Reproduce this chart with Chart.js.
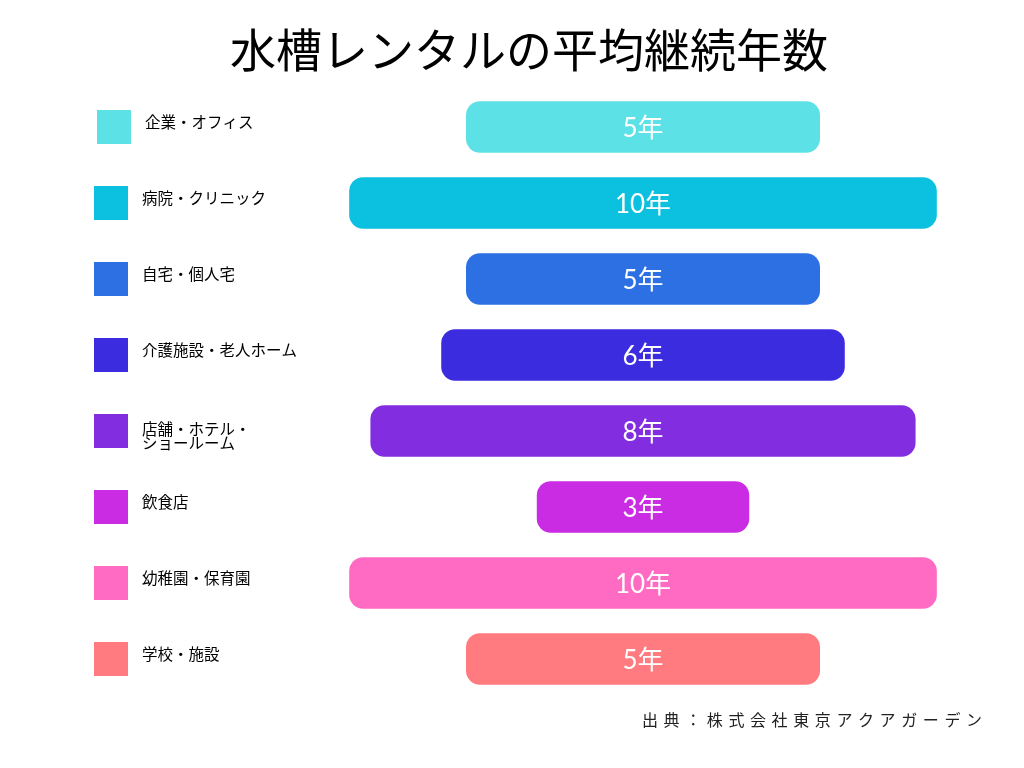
<!DOCTYPE html>
<html lang="ja">
<head>
<meta charset="utf-8">
<title>水槽レンタルの平均継続年数</title>
<script src="https://cdn.jsdelivr.net/npm/chart.js@4"></script>
<style>
  html, body { margin: 0; padding: 0; background: #fff; }
  #wrap { width: 1024px; height: 768px; }
</style>
</head>
<body>
<div id="wrap"><canvas id="rental_years_bar"></canvas></div>
<script>
var chartTitle = '水槽レンタルの平均継続年数';
var sourceText = '出典：株式会社東京アクアガーデン';

var categories = [
    '企業・オフィス',
    '病院・クリニック',
    '自宅・個人宅',
    '介護施設・老人ホーム',
    ['店舗・ホテル・', 'ショールーム'],
    '飲食店',
    '幼稚園・保育園',
    '学校・施設'
];
// average years (shown on the bars)
var years = [5, 10, 5, 6, 8, 3, 10, 5];
// bar length as drawn in the reference (the 10 year bars are visually shortened)
var barLengths = [5, 8.3, 5, 5.7, 7.7, 3, 8.3, 5];
var colors = ['#5CE1E6', '#0CC0DF', '#2C70E3', '#3C2CE0', '#822EE0', '#C92CE2', '#FF6AC3', '#FF7B80'];

var FONT = '"Noto Sans CJK JP", "Noto Sans", sans-serif';

// bars are centred on 0, so each one spans -len/2 .. len/2
var spans = barLengths.map(function (len) { return [-len / 2, len / 2]; });

var decorPlugin = {
    id: 'decor',
    afterDatasetsDraw: function (chart) {
        var ctx = chart.ctx;
        var meta = chart.getDatasetMeta(0);
        ctx.save();
        ctx.fillStyle = '#ffffff';
        ctx.font = '26px Lato, ' + FONT;
        ctx.textAlign = 'center';
        ctx.textBaseline = 'middle';
        meta.data.forEach(function (bar, i) {
            ctx.fillText(years[i] + '年', bar.base + (bar.x - bar.base) / 2, bar.y + 2);
        });
        ctx.restore();
    },
    afterDraw: function (chart) {
        var ctx = chart.ctx;
        var yScale = chart.scales.y;
        ctx.save();

        // title
        ctx.fillStyle = '#000000';
        ctx.font = '46px ' + FONT;
        ctx.textAlign = 'center';
        ctx.textBaseline = 'middle';
        ctx.fillText(chartTitle, 529, 50);

        // legend squares and names, one per row
        ctx.textAlign = 'left';
        ctx.font = '15.5px ' + FONT;
        categories.forEach(function (name, i) {
            var cy = yScale.getPixelForValue(i);
            ctx.fillStyle = colors[i];
            ctx.fillRect(i === 0 ? 97 : 94, cy - 17, 34, 34);
            ctx.fillStyle = '#000000';
            if (Array.isArray(name)) {
                name.forEach(function (line, k) {
                    ctx.fillText(line, 142, cy - 2 + k * 14);
                });
            } else {
                ctx.fillText(name, i === 0 ? 145 : 142, cy - 5);
            }
        });

        // source
        ctx.fillStyle = '#222222';
        ctx.font = '16px ' + FONT;
        ctx.letterSpacing = '5.6px';
        ctx.fillText(sourceText, 642, 720);
        ctx.restore();
    }
};

var ctx = document.getElementById('rental_years_bar').getContext('2d');
var myChart = new Chart(ctx, {
    type: 'bar',
    data: {
        labels: categories,
        datasets: [
            {
                label: '平均継続年数',
                data: spans,
                backgroundColor: colors,
                borderRadius: 14,
                borderSkipped: false,
                categoryPercentage: 0.68,
                barPercentage: 1
            }
        ]
    },
    options: {
        indexAxis: 'y',
        responsive: true,
        maintainAspectRatio: false,
        animation: false,
        layout: {
            padding: { left: 289, right: 27, top: 89, bottom: 71 }
        },
        scales: {
            x: { min: -5, max: 5, display: false },
            y: { display: false }
        },
        plugins: {
            legend: { display: false },
            title: { display: false },
            tooltip: { enabled: false }
        }
    },
    plugins: [decorPlugin]
});
</script>
</body>
</html>
